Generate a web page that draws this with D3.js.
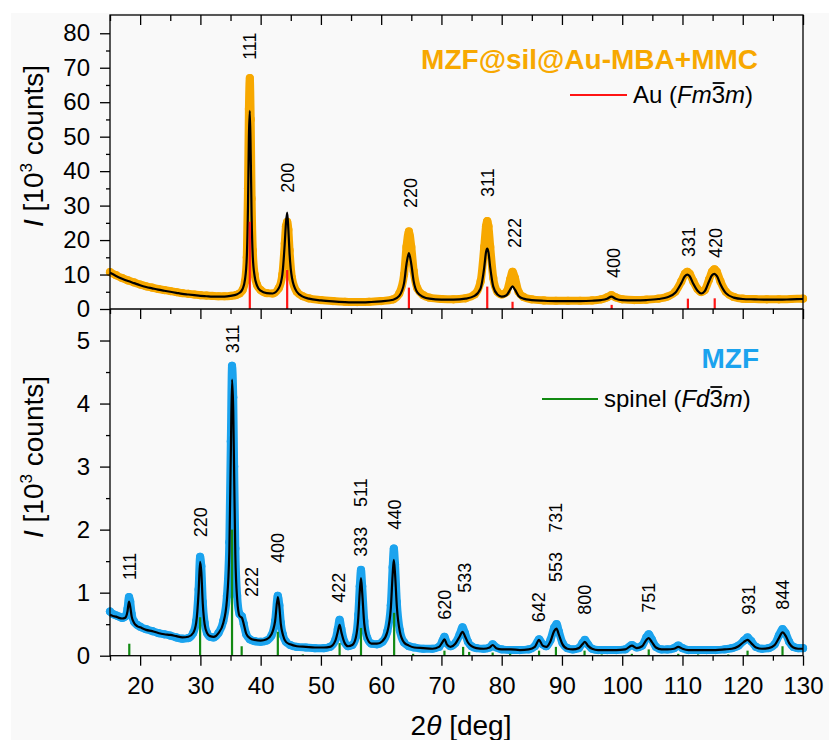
<!DOCTYPE html>
<html>
<head>
<meta charset="utf-8">
<script src="https://cdn.jsdelivr.net/npm/d3@7"></script>
<style>
  body { margin: 0; background: #ffffff; }
  text { font-family: "Liberation Sans", Arial, sans-serif; }
</style>
</head>
<body>
<svg id="chart" width="829" height="740"></svg>
<script>
// ---------- Au-coated sample (upper panel), intensities in 10^3 counts ----------
const auTheta = [
  15, 16, 17, 18, 19, 20, 21, 22, 23, 24, 25, 26, 27, 28, 29, 30, 31, 32, 33, 34, 35,
  36, 36.5, 37, 37.4, 37.7, 37.9, 38.05, 38.2, 38.35, 38.5, 38.7, 39, 39.4, 40,
  41, 42, 43, 43.6, 44, 44.2, 44.4, 44.6, 44.8, 45.2, 46, 47, 48,
  50, 52, 54, 56, 58, 60, 62, 63,
  63.8, 64.2, 64.6, 65.0, 65.4, 66, 67, 68,
  70, 72, 74, 75.5, 76.5, 77.1, 77.4, 77.6, 77.8, 78.1, 78.6, 79.3, 80,
  80.8, 81.4, 81.8, 82.2, 82.8, 83.6, 85,
  87, 89, 91, 93, 95, 96.5, 97.5, 98.2, 98.9, 100,
  102, 104, 106, 107.5, 108.8, 109.8, 110.4, 110.8, 111.2, 111.8,
  112.5, 113.1, 113.7, 114.4, 114.9, 115.3, 115.7, 116.3, 117.2, 118.5,
  120, 122, 124, 126, 128, 130
];
const auMeasured = [
  10.7, 9.8, 9.0, 8.3, 7.7, 7.1, 6.6, 6.2, 5.8, 5.5, 5.2, 4.9, 4.6, 4.4, 4.2, 4.0, 3.9, 3.8, 3.7, 3.7, 3.8,
  4.1, 4.5, 5.5, 8, 15, 35, 58, 67, 55, 32, 17, 10, 7, 5.5,
  4.6, 4.5, 6, 10, 19, 24, 25.3, 23, 17, 9, 5, 3.7, 3.1,
  2.6, 2.3, 2.1, 2.0, 2.1, 2.3, 2.8, 4.5,
  10, 18, 22.5, 18, 11, 6, 4, 3.3,
  2.9, 2.8, 3.1, 4.2, 8, 18, 24, 25.5, 24, 18, 9, 5, 4.2,
  5, 8.5, 10.8, 9, 5, 3.5, 2.8,
  2.5, 2.4, 2.4, 2.4, 2.5, 2.8, 3.4, 4.0, 3.4, 2.8,
  2.6, 2.7, 3.0, 3.6, 5, 8, 10.2, 10.8, 10.2, 8,
  5.8, 4.9, 5.5, 8.5, 10.8, 11.5, 10.8, 8, 5, 3.5,
  3.0, 2.9, 2.8, 2.8, 2.9, 3.0
];
const auFit = [
  10.5, 9.6, 8.8, 8.1, 7.5, 6.9, 6.4, 6.0, 5.6, 5.3, 5.0, 4.7, 4.4, 4.2, 4.0, 3.8, 3.7, 3.6, 3.6, 3.6, 3.8,
  4.2, 4.7, 5.8, 8.5, 15, 30, 50, 57.5, 45, 27, 15, 9.5, 6.8, 5.3,
  4.6, 4.5, 6, 10, 19, 25, 28, 23, 16, 9, 5, 3.6, 3.0,
  2.5, 2.2, 2.0, 1.9, 2.0, 2.2, 2.7, 3.8,
  7.5, 13, 16.2, 13, 8, 4.8, 3.5, 3.0,
  2.7, 2.7, 3.0, 3.8, 6, 12, 16.5, 17.5, 16.5, 12, 6.5, 4.2, 3.6,
  4, 5.6, 6.6, 5.6, 3.8, 3.0, 2.6,
  2.4, 2.3, 2.3, 2.3, 2.4, 2.6, 3.0, 3.6, 3.0, 2.6,
  2.5, 2.6, 2.9, 3.4, 4.7, 7.5, 9.5, 10.0, 9.5, 7.3,
  5.3, 4.5, 5.2, 8, 9.8, 10.2, 9.6, 7.2, 4.6, 3.3,
  2.9, 2.8, 2.7, 2.7, 2.8, 2.9
];
// Au (Fm-3m) reference reflections
const auRefTheta = [38.2, 44.4, 64.6, 77.6, 81.8, 98.25, 110.9, 115.35];
const auRefIntensity = [25.3, 11.3, 6.2, 6.5, 2.1, 1.2, 3.0, 3.1];
const auHkl = ["111", "200", "220", "311", "222", "400", "331", "420"];
const auHklTheta = [38.2, 44.4, 64.8, 77.7, 82.2, 98.5, 111.0, 115.5];
const auHklLevel = [72.3, 33.7, 29.3, 32.5, 17.7, 9.0, 15.1, 14.8];

// ---------- bare MZF (lower panel), intensities in 10^3 counts ----------
const mzfTheta = [
  15, 15.5, 16, 16.5, 17, 17.5, 17.9, 18.15, 18.35, 18.6,
  19, 19.5, 20, 21, 22, 23, 24, 25, 26, 27,
  28, 28.8, 29.3, 29.7, 29.95, 30.15, 30.4, 30.7, 31.1, 31.6,
  32.2, 33, 33.8, 34.4, 34.8, 35.05, 35.25, 35.45, 35.6, 35.8,
  36.1, 36.5, 36.9, 37.2, 37.6, 38.2, 39, 40, 41, 41.8,
  42.4, 42.85, 43.1, 43.35, 43.7, 44.2, 44.9, 46, 47.5, 49,
  50.5, 51.5, 52.4, 52.8, 53.1, 53.4, 53.9, 54.5, 55.2, 55.8,
  56.2, 56.45, 56.65, 56.85, 57.2, 57.7, 58.4, 59.3, 60.2, 61,
  61.6, 61.9, 62.1, 62.3, 62.6, 63.1, 63.8, 64.6, 65.5, 67,
  68.5, 69.6, 70.2, 70.5, 70.9, 71.5, 72.3, 73.0, 73.5, 73.9,
  74.4, 75.0, 75.8, 77, 78.0, 78.5, 79.1, 80, 81.5, 83,
  84.5, 85.5, 86.2, 86.8, 87.4, 88.1, 88.7, 89.1, 89.5, 90.1,
  90.9, 91.8, 92.8, 93.4, 93.8, 94.3, 95, 96, 97.5, 99,
  100.5, 101.6, 102.4, 103.3, 104, 104.4, 104.9, 105.6, 106.5, 107.5,
  108.6, 109.3, 110, 111, 112.5, 114, 115.5, 117, 118.2, 119.3,
  120.2, 120.8, 121.4, 122.2, 123.2, 124.3, 125.3, 126, 126.6, 127.1,
  127.7, 128.4, 129.2, 130
];
const mzfMeasured = [
  0.70, 0.66, 0.64, 0.62, 0.60, 0.62, 0.74, 0.93, 0.86, 0.66,
  0.54, 0.49, 0.46, 0.42, 0.39, 0.36, 0.34, 0.32, 0.29, 0.27,
  0.28, 0.36, 0.55, 1.05, 1.57, 1.42, 0.85, 0.52, 0.36, 0.30,
  0.29, 0.36, 0.55, 0.95, 1.8, 3.4, 4.6, 4.1, 3.0, 1.7,
  0.95, 0.66, 0.62, 0.50, 0.34, 0.26, 0.23, 0.22, 0.24, 0.32,
  0.55, 0.95, 0.80, 0.52, 0.33, 0.22, 0.17, 0.14, 0.13, 0.12,
  0.12, 0.14, 0.25, 0.42, 0.57, 0.42, 0.22, 0.15, 0.17, 0.30,
  0.65, 1.10, 1.36, 1.10, 0.55, 0.28, 0.19, 0.18, 0.22, 0.38,
  0.80, 1.40, 1.70, 1.45, 0.85, 0.40, 0.21, 0.15, 0.13, 0.11,
  0.11, 0.14, 0.24, 0.30, 0.20, 0.15, 0.20, 0.33, 0.45, 0.36,
  0.22, 0.15, 0.12, 0.11, 0.13, 0.18, 0.13, 0.10, 0.09, 0.09,
  0.10, 0.15, 0.26, 0.18, 0.15, 0.25, 0.44, 0.50, 0.38, 0.20,
  0.12, 0.10, 0.12, 0.20, 0.25, 0.18, 0.11, 0.09, 0.09, 0.09,
  0.10, 0.17, 0.13, 0.16, 0.29, 0.34, 0.26, 0.14, 0.10, 0.10,
  0.12, 0.16, 0.12, 0.09, 0.09, 0.09, 0.09, 0.10, 0.12, 0.16,
  0.24, 0.29, 0.23, 0.14, 0.11, 0.12, 0.18, 0.32, 0.42, 0.36,
  0.22, 0.14, 0.12, 0.12
];
const mzfFit = [
  0.65, 0.63, 0.62, 0.60, 0.59, 0.60, 0.70, 0.86, 0.78, 0.62,
  0.52, 0.47, 0.45, 0.41, 0.39, 0.36, 0.34, 0.33, 0.31, 0.29,
  0.30, 0.36, 0.52, 1.00, 1.49, 1.33, 0.82, 0.50, 0.36, 0.31,
  0.30, 0.36, 0.52, 0.88, 1.65, 3.2, 4.38, 3.9, 2.9, 1.6,
  0.90, 0.63, 0.60, 0.50, 0.35, 0.28, 0.25, 0.24, 0.26, 0.34,
  0.55, 0.93, 0.78, 0.50, 0.33, 0.22, 0.18, 0.15, 0.14, 0.13,
  0.13, 0.14, 0.24, 0.38, 0.49, 0.37, 0.21, 0.15, 0.17, 0.29,
  0.60, 1.02, 1.23, 1.00, 0.50, 0.27, 0.19, 0.19, 0.23, 0.37,
  0.75, 1.28, 1.52, 1.30, 0.78, 0.38, 0.21, 0.16, 0.13, 0.12,
  0.11, 0.14, 0.22, 0.26, 0.18, 0.14, 0.19, 0.30, 0.38, 0.31,
  0.21, 0.15, 0.12, 0.11, 0.13, 0.17, 0.12, 0.10, 0.10, 0.09,
  0.10, 0.14, 0.25, 0.16, 0.14, 0.23, 0.39, 0.43, 0.33, 0.18,
  0.11, 0.10, 0.12, 0.18, 0.22, 0.16, 0.11, 0.09, 0.09, 0.09,
  0.10, 0.16, 0.12, 0.15, 0.25, 0.28, 0.22, 0.13, 0.10, 0.10,
  0.11, 0.14, 0.11, 0.09, 0.09, 0.09, 0.09, 0.10, 0.11, 0.15,
  0.22, 0.25, 0.20, 0.13, 0.11, 0.12, 0.17, 0.28, 0.37, 0.32,
  0.20, 0.13, 0.11, 0.11
];
// spinel (Fd-3m) reference reflections
const spinelRefTheta = [18.2, 29.95, 35.25, 36.85, 42.85, 47.0, 53.1, 56.65, 62.15, 65.3, 70.5, 73.6, 74.6,
  78.5, 81.4, 86.2, 89.0, 93.75, 96.6, 101.6, 104.4, 109.3, 112.6, 117.6, 120.8, 126.6];
const spinelRefIntensity = [0.19, 0.61, 2.0, 0.15, 0.38, 0.02, 0.20, 0.44, 0.68, 0.03, 0.08, 0.14, 0.06,
  0.05, 0.03, 0.08, 0.14, 0.08, 0.02, 0.03, 0.10, 0.03, 0.02, 0.02, 0.08, 0.15];
const spinelHkl = ["111", "220", "311", "222", "400", "422", "333", "511", "440", "620", "533",
  "642", "553", "731", "800", "751", "931", "844"];
const spinelHklTheta = [18.32, 29.94, 35.25, 38.5, 42.88, 52.9, 56.65, 56.65, 62.18, 70.48, 73.9,
  86.08, 89.0, 89.0, 93.7, 104.3, 120.9, 126.6];
const spinelHklLevel = [1.20, 1.88, 4.80, 0.93, 1.47, 0.84, 1.57, 2.36, 2.00, 0.57, 1.00,
  0.53, 1.17, 1.95, 0.65, 0.68, 0.65, 0.73];

// axis ticks
const thetaMajor = [20, 30, 40, 50, 60, 70, 80, 90, 100, 110, 120, 130];
const thetaMinor = [15, 25, 35, 45, 55, 65, 75, 85, 95, 105, 115, 125];
const auYMajor = [0, 10, 20, 30, 40, 50, 60, 70, 80];
const auYMinor = [5, 15, 25, 35, 45, 55, 65, 75];
const mzfYMajor = [0, 1, 2, 3, 4, 5];
const mzfYMinor = [0.5, 1.5, 2.5, 3.5, 4.5];

// ---------- drawing ----------
const ORANGE = "#f7a800", BLUE = "#1ba3ee", RED = "#ff1414", GREEN = "#128a12";
const L = 110, R = 803, T = 15, MID = 309, B = 655.7;

const svg = d3.select("#chart");
svg.append("rect").attr("x", 11).attr("y", 13).attr("width", 818).attr("height", 727).attr("fill", "#f9f9f9");

const x = d3.scaleLinear().domain([15, 130]).range([L, R]);
const yTop = d3.scaleLinear().domain([0, 85.3]).range([MID, T]);
const yBot = d3.scaleLinear().domain([0, 5.5]).range([B, MID]);

function panel(theta, measured, fit, y, color, refTheta, refInt, refColor) {
  const g = svg.append("g");
  const pts = theta.map((t, i) => [t, measured[i]]);
  const line = d3.line().x(d => x(d[0])).y(d => y(d[1])).curve(d3.curveMonotoneX);
  // measured pattern: dense dots fused into a thick band
  g.append("path").datum(pts).attr("d", line)
    .attr("fill", "none").attr("stroke", color).attr("stroke-width", 8)
    .attr("stroke-linejoin", "round").attr("stroke-linecap", "round");
  g.selectAll("circle.pt").data(pts).join("circle").attr("class", "pt")
    .attr("cx", d => x(d[0])).attr("cy", d => y(d[1])).attr("r", 4.1).attr("fill", color);
  // refined profile
  g.append("path").datum(theta.map((t, i) => [t, fit[i]])).attr("d", line)
    .attr("fill", "none").attr("stroke", "#000").attr("stroke-width", 2.2)
    .attr("stroke-linejoin", "round");
  // reference reflections
  g.selectAll("line.ref").data(refTheta).join("line").attr("class", "ref")
    .attr("x1", d => x(d)).attr("x2", d => x(d))
    .attr("y1", y(0)).attr("y2", (d, i) => y(refInt[i]))
    .attr("stroke", refColor).attr("stroke-width", 2.2);
}

panel(auTheta, auMeasured, auFit, yTop, ORANGE, auRefTheta, auRefIntensity, RED);
panel(mzfTheta, mzfMeasured, mzfFit, yBot, BLUE, spinelRefTheta, spinelRefIntensity, GREEN);

function hklLabels(labels, theta, level, y) {
  svg.append("g").selectAll("text").data(labels).join("text")
    .attr("transform", (d, i) => `translate(${x(theta[i])},${y(level[i])}) rotate(-90)`)
    .attr("dy", "0.36em").attr("font-size", 18).attr("fill", "#000").text(d => d);
}
hklLabels(auHkl, auHklTheta, auHklLevel, yTop);
hklLabels(spinelHkl, spinelHklTheta, spinelHklLevel, yBot);

// ---------- axes ----------
function axis(gen, scale, values, size, pad, labels, tx, ty, fontSize) {
  const g = svg.append("g").attr("transform", `translate(${tx},${ty})`)
    .call(gen(scale).tickValues(values).tickSize(size).tickPadding(pad)
      .tickFormat(labels ? d3.format("d") : ""));
  g.select(".domain").remove();
  g.selectAll(".tick line").attr("stroke", "#000").attr("stroke-width", 1.3);
  g.selectAll(".tick text").attr("font-size", fontSize || 24).attr("fill", "#000")
    .attr("font-family", "'Liberation Sans', Arial, sans-serif");
  return g;
}
// left axes (outward ticks)
axis(d3.axisLeft, yTop, auYMajor, 10, 10, true, L, 0);
axis(d3.axisLeft, yTop, auYMinor, 4, 0, false, L, 0);
axis(d3.axisLeft, yBot, mzfYMajor, 10, 10, true, L, 0);
axis(d3.axisLeft, yBot, mzfYMinor, 4, 0, false, L, 0);
// bottom axis with labels
axis(d3.axisBottom, x, thetaMajor, 10, 11, true, 0, B);
axis(d3.axisBottom, x, thetaMinor, 5, 0, false, 0, B);
// shared middle axis and top axis
axis(d3.axisBottom, x, thetaMajor, 10, 0, false, 0, MID);
axis(d3.axisBottom, x, thetaMinor, 5, 0, false, 0, MID);
axis(d3.axisBottom, x, thetaMajor, 10, 0, false, 0, T);
axis(d3.axisBottom, x, thetaMinor, 6, 0, false, 0, T);

// frame
svg.append("rect").attr("x", L).attr("y", T).attr("width", R - L).attr("height", B - T)
  .attr("fill", "none").attr("stroke", "#000").attr("stroke-width", 1.3);
svg.append("line").attr("x1", L).attr("x2", R).attr("y1", MID).attr("y2", MID)
  .attr("stroke", "#000").attr("stroke-width", 1.3);

// axis titles
function yTitle(cx, cy) {
  const t = svg.append("text").attr("transform", `translate(${cx},${cy}) rotate(-90)`)
    .attr("text-anchor", "middle").attr("font-size", 28).attr("fill", "#000");
  t.append("tspan").attr("font-style", "italic").text("I");
  t.append("tspan").text(" [10");
  t.append("tspan").attr("font-size", 17).attr("dy", -11).text("3");
  t.append("tspan").attr("dy", 11).text(" counts]");
}
yTitle(43, 146);
yTitle(43, 457);

const xt = svg.append("text").attr("x", 461).attr("y", 735).attr("text-anchor", "middle")
  .attr("font-size", 28).attr("fill", "#000");
xt.append("tspan").text("2");
xt.append("tspan").attr("font-style", "italic").text("θ");
xt.append("tspan").text(" [deg]");

// panel titles
svg.append("text").attr("x", 758).attr("y", 69).attr("text-anchor", "end")
  .attr("font-size", 28).attr("font-weight", "bold").attr("fill", ORANGE).text("MZF@sil@Au-MBA+MMC");
svg.append("text").attr("x", 759).attr("y", 368).attr("text-anchor", "end")
  .attr("font-size", 28).attr("font-weight", "bold").attr("fill", BLUE).text("MZF");

// legends with space-group symbols (bar over the 3)
function legend(x1, x2, ly, color, name, sym1) {
  svg.append("line").attr("x1", x1).attr("x2", x2).attr("y1", ly).attr("y2", ly)
    .attr("stroke", color).attr("stroke-width", 2.2);
  const t = svg.append("text").attr("x", x2 + 6).attr("y", ly + 8).attr("font-size", 24).attr("fill", "#000");
  t.append("tspan").text(name + " (");
  t.append("tspan").attr("font-style", "italic").text(sym1);
  t.append("tspan").text("3");
  t.append("tspan").attr("font-style", "italic").text("m");
  t.append("tspan").text(")");
  const idx = (name + " (" + sym1).length;
  const node = t.node();
  const s = node.getStartPositionOfChar(idx), e = node.getEndPositionOfChar(idx);
  svg.append("line").attr("x1", s.x + 1).attr("x2", e.x - 0.5)
    .attr("y1", ly + 8 - 20).attr("y2", ly + 8 - 20)
    .attr("stroke", "#000").attr("stroke-width", 1.8);
}
legend(570, 627, 95, RED, "Au", "Fm");
legend(542, 598, 399, GREEN, "spinel", "Fd");
</script>
</body>
</html>
